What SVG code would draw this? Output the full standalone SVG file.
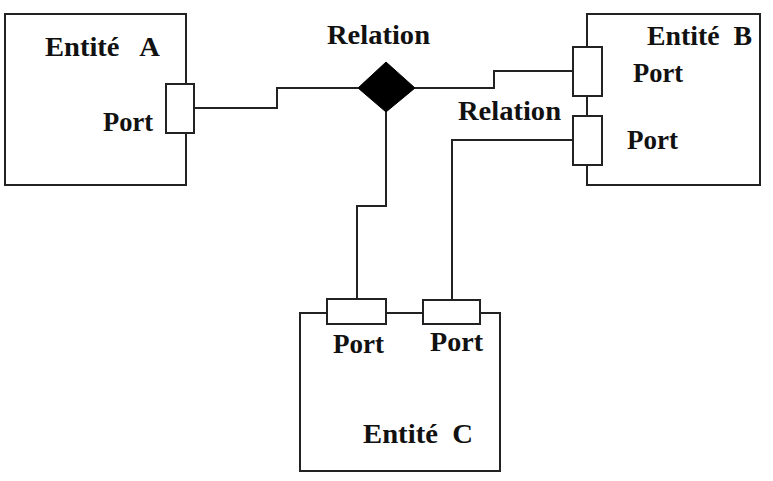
<svg xmlns="http://www.w3.org/2000/svg" width="773" height="481" viewBox="0 0 773 481">
<style>
.box{fill:#fff;stroke:#222;stroke-width:2}
.port{fill:#fff;stroke:#222;stroke-width:2}
.wire{fill:none;stroke:#222;stroke-width:2}
text{font-family:"Liberation Serif","Times New Roman",serif;font-weight:bold;font-size:27px;fill:#111;white-space:pre}
</style>
<rect width="773" height="481" fill="#fff"/>
<g id="connectors">
<polyline class="wire" points="195,108 277,108 277,88 358,88"/>
<polyline class="wire" points="415,88 494,88 494,71 573,71"/>
<polyline class="wire" points="386,112 386,206 357,206 357,299"/>
<polyline class="wire" points="573,140 452,140 452,300"/>
</g>
<g id="entite-a">
<rect class="box" x="5" y="14" width="181" height="171"/>
<text x="45" y="56" textLength="115" lengthAdjust="spacingAndGlyphs">Entité&#160;&#160; A</text>
<text x="103" y="131" textLength="50" lengthAdjust="spacingAndGlyphs">Port</text>
<rect class="port" x="166" y="84" width="28" height="49"/>
</g>
<g id="relation">
<polygon points="386,62 415,88 386,112 358,88" fill="#000" stroke="#000" stroke-width="1"/>
<text x="327" y="44" textLength="103" lengthAdjust="spacingAndGlyphs">Relation</text>
</g>
<g id="relation-label-2">
<text x="458" y="120" textLength="103" lengthAdjust="spacingAndGlyphs">Relation</text>
</g>
<g id="entite-b">
<rect class="box" x="587" y="14" width="173" height="171"/>
<rect class="port" x="573" y="47" width="29" height="49"/>
<rect class="port" x="573" y="116" width="29" height="49"/>
<text x="647" y="45" textLength="105" lengthAdjust="spacingAndGlyphs">Entité&#160; B</text>
<text x="633" y="82" textLength="50" lengthAdjust="spacingAndGlyphs">Port</text>
<text x="627" y="149" textLength="51" lengthAdjust="spacingAndGlyphs">Port</text>
</g>
<g id="entite-c">
<rect class="box" x="300" y="313" width="200" height="158"/>
<rect class="port" x="327" y="299" width="59" height="25"/>
<rect class="port" x="423" y="300" width="57" height="24"/>
<text x="333" y="353" textLength="51" lengthAdjust="spacingAndGlyphs">Port</text>
<text x="430" y="351" textLength="53" lengthAdjust="spacingAndGlyphs">Port</text>
<text x="363" y="443" textLength="110" lengthAdjust="spacingAndGlyphs">Entité&#160; C</text>
</g>
</svg>
